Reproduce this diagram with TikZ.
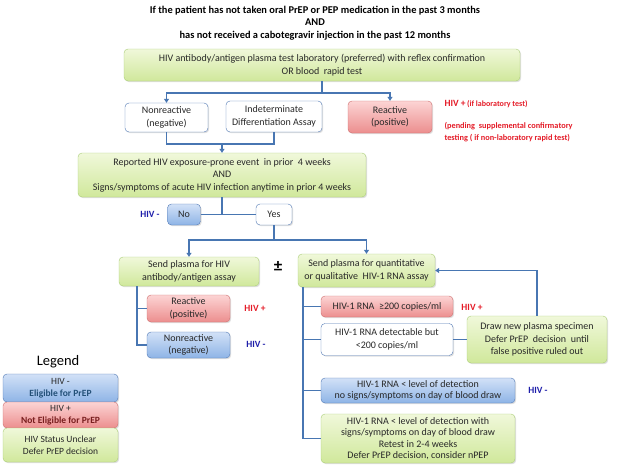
\documentclass[tikz,border=0pt]{standalone}
\usepackage{fontspec}
\setmainfont{Carlito}
\usepackage{tikz}
\usetikzlibrary{shadows,arrows.meta}

\definecolor{linecol}{RGB}{72,118,178}
\definecolor{txt}{RGB}{40,40,40}
\definecolor{grntop}{RGB}{240,248,218}
\definecolor{grnbot}{RGB}{208,232,155}
\definecolor{grnline}{RGB}{170,205,120}
\definecolor{redtop}{RGB}{252,212,212}
\definecolor{redbot}{RGB}{236,142,142}
\definecolor{redline}{RGB}{205,110,110}
\definecolor{blutop}{RGB}{210,225,247}
\definecolor{blubot}{RGB}{142,180,230}
\definecolor{bluline}{RGB}{80,120,180}
\definecolor{hivred}{RGB}{228,28,40}
\definecolor{hivblue}{RGB}{30,30,170}

\tikzset{
  box/.style={rounded corners=4pt, draw, align=center, text=txt, inner sep=1pt,
    font=\fontsize{10}{12.5}\selectfont,
    drop shadow={opacity=0.25, shadow xshift=1.2pt, shadow yshift=-1.2pt}},
  greenbox/.style={box, draw=grnline, top color=grntop, bottom color=grnbot},
  redbox/.style={box, draw=redline, top color=redtop, bottom color=redbot},
  bluebox/.style={box, draw=bluline, top color=blutop, bottom color=blubot},
  whitebox/.style={box, draw=bluline, fill=white},
  link/.style={draw=linecol, line width=1.5pt},
  arrow/.style={link, -{Triangle[length=4pt,width=5pt]}},
  poslabel/.style={text=hivred, font=\bfseries\fontsize{9.5}{11}\selectfont},
  neglabel/.style={text=hivblue, font=\bfseries\fontsize{9.5}{11}\selectfont},
}

\begin{document}
\begin{tikzpicture}[x=1pt,y=-1pt]
  \useasboundingbox (0,0) rectangle (622,466);

  % heading
  \node[align=center, font=\bfseries\fontsize{10.4}{12.5}\selectfont] (head) at (315,23)
    {If the patient has not taken oral PrEP or PEP medication in the past 3 months\\
     AND\\has not received a cabotegravir injection in the past 12 months};

  % first test
  \node[greenbox, minimum width=396, minimum height=32] (test) at (322,65)
    {HIV antibody/antigen plasma test laboratory (preferred) with reflex confirmation\\
     OR blood\ \ rapid test};
  \node[whitebox, minimum width=83, minimum height=29] (neg1) at (166.5,117.5)
    {Nonreactive\\(negative)};
  \node[whitebox, minimum width=96, minimum height=31] (indet) at (274,116.5)
    {Indeterminate\\Differentiation Assay};
  \node[redbox, minimum width=84, minimum height=32] (pos1) at (390,117)
    {Reactive\\(positive)};
  \node[poslabel, anchor=west] (poslab1) at (441,104)
    {HIV +\,{\fontsize{8}{9}\selectfont(if laboratory test)}};
  \node[anchor=west, align=left, text=hivred, font=\bfseries\fontsize{8.3}{12}\selectfont]
    (pending) at (441,132)
    {(pending\ \ supplemental confirmatory\\testing ( if non-laboratory rapid test)};

  % exposure
  \node[greenbox, minimum width=288, minimum height=44] (expo) at (222,175)
    {Reported HIV exposure-prone event\ \ in prior\ \ 4 weeks\\AND\\
     Signs/symptoms of acute HIV infection anytime in prior 4 weeks};
  \node[bluebox, minimum width=33, minimum height=21] (no) at (184,214.5) {No};
  \node[whitebox, minimum width=36, minimum height=21] (yes) at (274,214.5) {Yes};
  \node[neglabel] (neglab0) at (150,214.5) {HIV -};

  % second tests
  \node[greenbox, minimum width=140, minimum height=29] (ab) at (189,271.5)
    {Send plasma for HIV\\antibody/antigen assay};
  \node[font=\bfseries\fontsize{17}{17}\selectfont] (pm) at (278,266) {±};
  \node[greenbox, minimum width=137, minimum height=33] (rna) at (366.5,270.5)
    {Send plasma for quantitative\\or qualitative\ \ HIV-1 RNA assay};

  \node[redbox, minimum width=83, minimum height=27] (pos2) at (188.5,308.5)
    {Reactive\\(positive)};
  \node[poslabel] (poslab2) at (255,308) {HIV +};
  \node[bluebox, minimum width=83, minimum height=26] (neg2) at (188.5,345)
    {Nonreactive\\(negative)};
  \node[neglabel] (neglab2) at (256,344) {HIV -};

  \node[redbox, minimum width=132, minimum height=21] (high) at (387,306.5)
    {HIV-1 RNA\ \ ≥200 copies/ml};
  \node[poslabel] (poslab3) at (472,307) {HIV +};
  \node[whitebox, minimum width=132, minimum height=32] (low) at (387,339.5)
    {HIV-1 RNA detectable but\\<200 copies/ml};
  \node[greenbox, minimum width=140, minimum height=47] (redraw) at (537,339.5)
    {Draw new plasma specimen\\Defer PrEP\ \ decision\ \ until\\false positive ruled out};
  \node[bluebox, minimum width=194, minimum height=25, font=\fontsize{10}{11.5}\selectfont]
    (undet) at (418,390.5)
    {HIV-1 RNA < level of detection\\no signs/symptoms on day of blood draw};
  \node[neglabel] (neglab3) at (538,390) {HIV -};
  \node[greenbox, minimum width=194, minimum height=49, font=\fontsize{10}{11.5}\selectfont]
    (acute) at (418,438.5)
    {HIV-1 RNA < level of detection with\\signs/symptoms on day of blood draw\\
     Retest in 2-4 weeks\\Defer PrEP decision, consider nPEP};

  % legend
  \node[font=\fontsize{14.5}{14.5}\selectfont] (legend) at (58,362) {Legend};
  \node[bluebox, minimum width=115, minimum height=28, font=\fontsize{9.5}{12}\selectfont]
    (lgneg) at (60.5,388)
    {HIV -\\{\bfseries\color[RGB]{35,80,120}Eligible for PrEP}};
  \node[redbox, minimum width=115, minimum height=26, font=\fontsize{9.5}{12}\selectfont]
    (lgpos) at (60.5,415)
    {HIV +\\{\bfseries\color[RGB]{120,30,30}Not Eligible for PrEP}};
  \node[greenbox, minimum width=115, minimum height=34, font=\fontsize{9.5}{12.5}\selectfont]
    (lgunc) at (60.5,445)
    {HIV Status Unclear\\Defer PrEP decision};

  % connectors
  \coordinate (j1) at (test.south |- 0,93);
  \draw[link] (test.south) -- (j1);
  \draw[arrow] (j1) -| (neg1.north);
  \draw[arrow] (j1) -| (pos1.north);

  \coordinate (j2) at (expo.north |- 0,144);
  \draw[link] (neg1.south) |- (j2);
  \draw[link] (indet.south) |- (j2);
  \draw[arrow] (j2) -- (expo.north);

  \coordinate (j3) at (expo.south |- no.east);
  \draw[link] (expo.south) -- (j3);
  \draw[link] (no.east) -- (yes.west);

  \coordinate (j4) at (yes.south |- 0,240);
  \draw[link] (yes.south) -- (j4);
  \draw[arrow] (j4) -| (ab.north);
  \draw[arrow] (j4) -| (rna.north);

  \coordinate (c5) at ([xshift=18pt]ab.south west);
  \draw[link] (c5) |- (pos2.west);
  \draw[link] (c5) |- (neg2.west);

  \coordinate (c6) at ([xshift=5pt]rna.south west);
  \draw[link] (c6) |- (high.west);
  \draw[link] (c6) |- (low.west);
  \draw[link] (c6) |- (undet.west);
  \draw[link] (c6) |- (acute.west);

  \draw[link] (low.east) -- (redraw.west);
  \draw[arrow] (redraw.north) |- (rna.east);
\end{tikzpicture}
\end{document}
